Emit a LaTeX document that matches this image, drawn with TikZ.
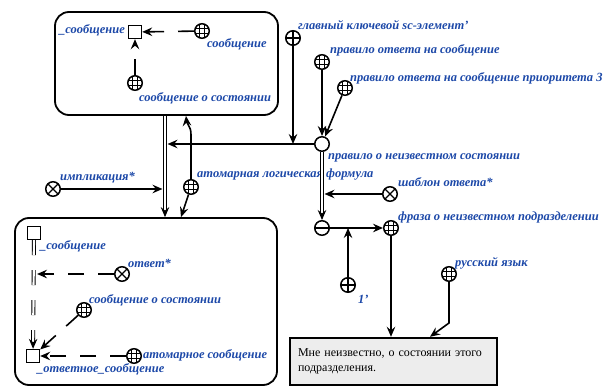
\documentclass[tikz,border=0pt]{standalone}
\usepackage{fontspec}
\setmainfont{Liberation Serif}
\usetikzlibrary{arrows.meta,calc}
\definecolor{lblue}{RGB}{28,72,168}
\begin{document}
\begin{tikzpicture}[x=1pt,y=-1pt,
 sc/.style={circle,draw,line width=1.5pt,minimum size=14.5pt,inner sep=0pt,fill=white},
 globe/.style={sc,path picture={
   \draw[line width=1pt] ([xshift=-2.5pt]path picture bounding box.north) -- ([xshift=-2.5pt]path picture bounding box.south)
     ([xshift=2.5pt]path picture bounding box.north) -- ([xshift=2.5pt]path picture bounding box.south)
     ([yshift=-2.5pt]path picture bounding box.west) -- ([yshift=-2.5pt]path picture bounding box.east)
     ([yshift=2.5pt]path picture bounding box.west) -- ([yshift=2.5pt]path picture bounding box.east);}},
 plusnode/.style={sc,path picture={\draw[line width=1.3pt] (path picture bounding box.north) -- (path picture bounding box.south) (path picture bounding box.west) -- (path picture bounding box.east);}},
 timesnode/.style={sc,path picture={\draw[line width=1.3pt] (path picture bounding box.north west) -- (path picture bounding box.south east) (path picture bounding box.north east) -- (path picture bounding box.south west);}},
 minusnode/.style={sc,path picture={\draw[line width=1.3pt] (path picture bounding box.west) -- (path picture bounding box.east);}},
 rulenode/.style={sc},
 sq/.style={rectangle,draw,line width=1.4pt,minimum size=13pt,inner sep=0pt,fill=white},
 lbl/.style={text=lblue,font=\fontsize{12.5}{14}\selectfont\bfseries\itshape,inner sep=0pt,anchor=west},
 arr/.style={line width=1.6pt,-{Stealth[length=10pt,width=8.5pt,inset=3.5pt]}},
 darr/.style={arr,dash pattern=on 16pt off 14pt},
 dbl/.style={line width=0.9pt,double distance=2.2pt,-{Stealth[length=10pt,width=8.5pt,inset=3.5pt]}},
 bx/.style={draw,line width=1.8pt,rounded corners=14pt}]
\useasboundingbox (0,0) rectangle (609,387);
% boxes
\node[bx,minimum width=223pt,minimum height=103pt] (topbox) at (166.5,63.5) {};
\node[bx,minimum width=262pt,minimum height=167pt] (botbox) at (146,301.5) {};
\node[draw,line width=2.4pt,fill=black!7,text width=191pt,inner xsep=8pt,minimum height=47pt,align=left,font=\fontsize{12}{14.5}\selectfont] (tb) at (393.5,361.5) {Мне неизвестно, о состоянии этого подразделения.};
% top box content
\node[sq] (sq1) at (135,32) {};
\node[globe] (g1) at (202,31) {};
\node[globe] (g2) at (135,83) {};
\node[lbl,anchor=east] at (125,30) {\_сообщение};
\node[lbl] at (207,44) {сообщение};
\node[lbl] at (139,98) {сообщение о состоянии};
% bottom box content
\node[sq] (sq2) at (34,233) {};
\node[sq] (sq3) at (33,356) {};
\node[timesnode] (x1) at (122,274) {};
\node[globe] (g3) at (84,310) {};
\node[globe] (g4) at (134,356) {};
\node[lbl] at (40,246) {\_сообщение};
\node[lbl] at (128,263) {ответ*};
\node[lbl] at (89,300) {сообщение о состоянии};
\node[lbl] at (143,355) {атомарное сообщение};
\node[lbl] at (37,369) {\_ответное\_сообщение};
% middle
\coordinate (dl) at (165,0);
\coordinate (a1) at (181,0);
\coordinate (a2) at (186,0);
\coordinate (a3) at (430,0);
\coordinate (bend) at (191,135);
\coordinate (rb) at (449,323);
\node[timesnode] (impl) at (53,189) {};
\node[globe] (alf) at (191,187) {};
\node[rulenode] (R) at (322,144) {};
\node[plusnode] (gk) at (293,38) {};
\node[globe] (r1) at (322,62) {};
\node[globe] (r2) at (345,88) {};
\node[minusnode] (neg) at (322,228) {};
\node[timesnode] (sh) at (390,194) {};
\node[globe] (ph) at (391,228) {};
\node[plusnode] (one) at (348,285) {};
\node[globe] (ru) at (449,274) {};
\node[lbl] at (60,178) {импликация*};
\node[lbl] at (197,175) {атомарная логическая формула};
\node[lbl] at (298,25) {главный ключевой sc-элемент'};
\node[lbl] at (330,50) {правило ответа на сообщение};
\node[lbl] at (350,78) {правило ответа на сообщение приоритета 3};
\node[lbl] at (328,158) {правило о неизвестном состоянии};
\node[lbl] at (398,182) {шаблон ответа*};
\node[lbl] at (398,217) {фраза о неизвестном подразделении};
\node[lbl] at (358,299) {1'};
\node[lbl] at (455,263) {русский язык};
% connectors
\draw[darr] (g1) -- (sq1);
\draw[darr] (g2) -- (sq1);
\draw[dbl,dash pattern=on 15pt off 15pt] (sq2) -- (sq3);
\draw[darr,shorten >=3pt] (x1) -- (x1 -| sq2);
\draw[darr] (g3) -- (sq3);
\draw[darr] (g4) -- (sq3);
\draw[dbl] (topbox.south -| dl) -- (botbox.north -| dl);
\draw[arr,shorten >=2.5pt] (impl) -- (impl -| dl);
\draw[arr] (alf) -- (botbox.north -| a1);
\draw[arr] (alf) -- (bend) .. controls +(0,-10) and +(1,10) .. (topbox.south -| a2);
\draw[arr,shorten >=2.5pt] (R) -- (R -| dl);
\draw[arr] (gk) -- (gk |- R);
\draw[arr] (r1) -- (R);
\draw[arr] (r2) -- (R);
\draw[dbl] (R) -- (neg);
\draw[arr,shorten >=2.5pt] (sh) -- (sh -| R);
\draw[arr] (neg) -- (ph);
\draw[arr] (one) -- (one |- neg);
\draw[arr] (ph) -- (ph |- tb.north);
\draw[arr] (ru) -- (rb) -- (tb.north -| a3);
\end{tikzpicture}
\end{document}
